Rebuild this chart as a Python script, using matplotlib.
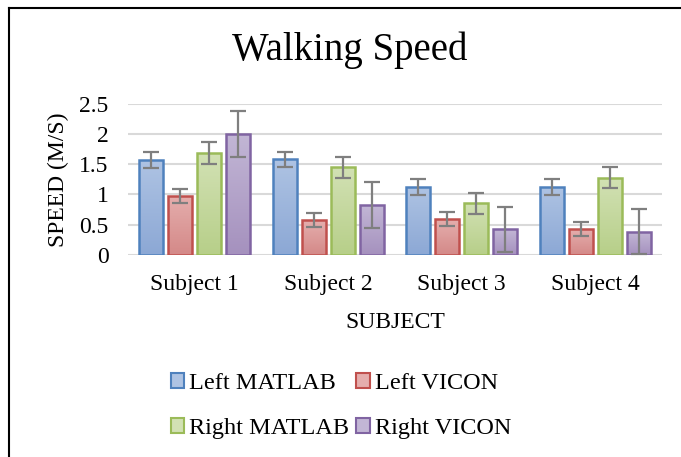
import matplotlib
matplotlib.use("Agg")
import matplotlib.pyplot as plt
import numpy as np
from matplotlib.colors import LinearSegmentedColormap
from matplotlib.patches import Patch
from matplotlib.lines import Line2D

plt.rcParams['font.family'] = ['Liberation Serif', 'DejaVu Serif']

subjects = ["Subject 1", "Subject 2", "Subject 3", "Subject 4"]
series = ["Left MATLAB", "Left VICON", "Right MATLAB", "Right VICON"]
left_matlab = [1.57, 1.58, 1.12, 1.12]
left_vicon = [0.98, 0.58, 0.59, 0.42]
right_matlab = [1.69, 1.45, 0.85, 1.28]
right_vicon = [2.00, 0.82, 0.42, 0.38]
err_left_matlab = [0.13, 0.13, 0.13, 0.13]
err_left_vicon = [0.115, 0.12, 0.12, 0.115]
err_right_matlab = [0.18, 0.175, 0.18, 0.18]
err_right_vicon = [0.38, 0.38, 0.375, 0.375]
yticks = [0, 0.5, 1, 1.5, 2, 2.5]
ytick_labels = ["0", "0.5", "1", "1.5", "2", "2.5"]

values = [left_matlab, left_vicon, right_matlab, right_vicon]
errors = [err_left_matlab, err_left_vicon, err_right_matlab, err_right_vicon]
edge_colors = ["#4F81BD", "#C0504D", "#9BBB59", "#8064A2"]
top_colors = ["#AEC3E3", "#E5AEAD", "#D2E1B4", "#C2B6D5"]
bot_colors = ["#8CA8D5", "#D48988", "#B7CF89", "#A591BE"]

FS = 17

fig = plt.figure(figsize=(6.81, 4.57), dpi=100)
ax = fig.add_axes([128/681, 1-254.7/457, (662-128)/681, (254.7-104)/457])

x = np.arange(len(subjects))
width = 0.18
step = 0.217
offsets = (np.arange(4) - 1.5) * step

for i in range(4):
    bars = ax.bar(x + offsets[i], values[i], width=width, facecolor='none',
                  edgecolor=edge_colors[i], linewidth=1.8, zorder=3)
    cmap = LinearSegmentedColormap.from_list("g%d" % i, [bot_colors[i], top_colors[i]])
    grad = np.linspace(0, 1, 100).reshape(-1, 1)
    for b in bars:
        im = ax.imshow(grad, cmap=cmap, origin='lower', aspect='auto',
                       extent=[b.get_x(), b.get_x() + b.get_width(), 0, b.get_height()],
                       zorder=2)
        im.set_clip_path(b)
    ax.errorbar(x + offsets[i], values[i], yerr=errors[i], fmt='none',
                ecolor='#7F7F7F', elinewidth=1.6, capsize=6, capthick=1.6, zorder=4)

ax.set_xlim(-0.5, 3.5)
ax.set_ylim(0, 2.5)
ax.set_yticks(yticks)
ax.set_yticklabels(ytick_labels, fontsize=FS)
ax.set_xticks(x)
ax.set_xticklabels(subjects, fontsize=FS)
ax.tick_params(axis='y', length=0, pad=14)
ax.tick_params(axis='x', length=0, pad=14)
for s in ax.spines.values():
    s.set_visible(False)
ax.grid(axis='y', color='#D9D9D9', linewidth=1.5, zorder=0)
ax.set_axisbelow(True)

ax.set_ylabel("SPEED (M/S)", fontsize=FS, labelpad=7)
ax.set_xlabel("SUBJECT", fontsize=FS, labelpad=12)

fig.text(350/681, 1-50/457, "Walking Speed", fontsize=28, ha='center', va='center')

handles = [Patch(facecolor=(top_colors[i]), edgecolor=edge_colors[i], linewidth=1.5)
           for i in range(4)]
order = [0, 2, 1, 3]
fig.legend([handles[k] for k in order], [series[k] for k in order], ncol=2,
           loc='center', bbox_to_anchor=(341/681, 1-406/457),
           frameon=False, fontsize=17.5, handlelength=0.55, handleheight=0.55,
           handletextpad=0.2, columnspacing=0.3, labelspacing=0.98,
           borderpad=0, borderaxespad=0)

# outer border (extends beyond right and bottom edges)
fig.add_artist(Line2D([8.5/681, 8.5/681], [0, 1-8/457], color='black', linewidth=1.5,
                      transform=fig.transFigure))
fig.add_artist(Line2D([8.5/681, 1], [1-8/457, 1-8/457], color='black', linewidth=1.5,
                      transform=fig.transFigure))

fig.savefig("out.png", dpi=100)
